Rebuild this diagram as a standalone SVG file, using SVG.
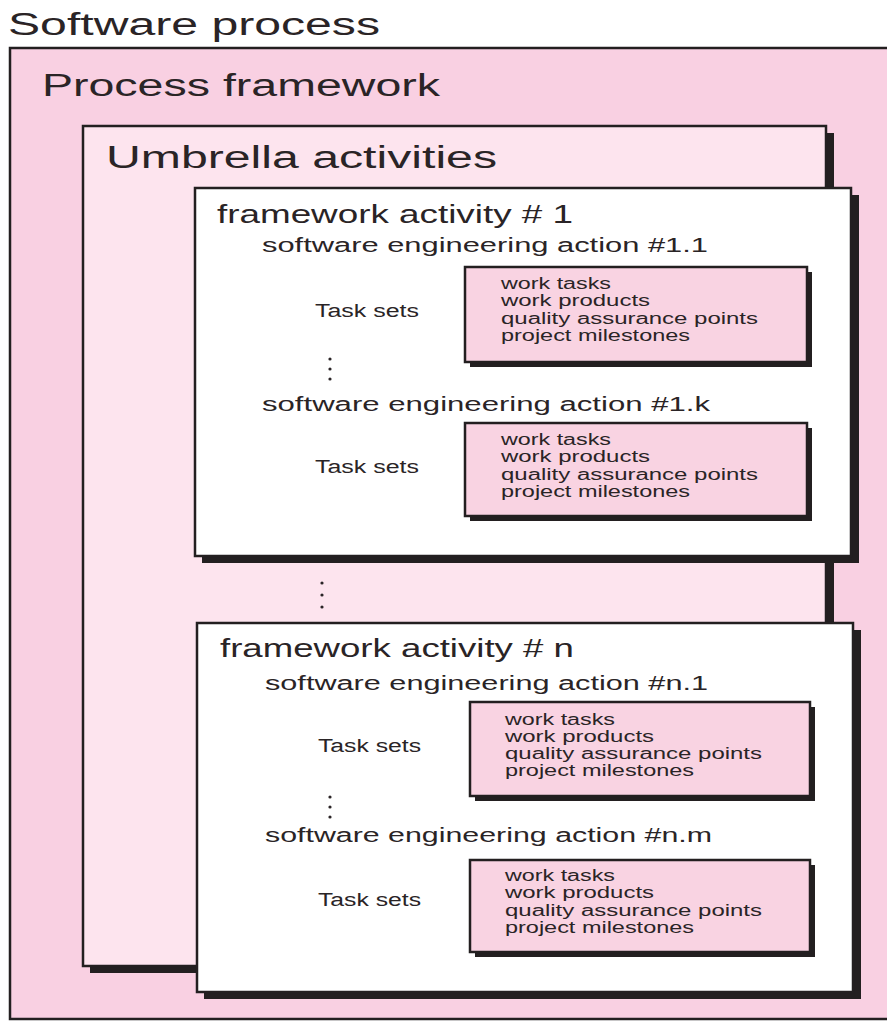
<svg xmlns="http://www.w3.org/2000/svg" width="887" height="1022" viewBox="0 0 887 1022">
<style>
.t{font-family:"Liberation Sans",Arial,sans-serif;fill:#2a2426}
.big{font-size:31px}
.fa{font-size:25px}
.sea{font-size:20px}
.ts{font-size:18px}
.sm{font-size:16px}
.frame{stroke:#231f20;stroke-width:2.5}
.sh{fill:#231f20}
.dot{fill:#2a2426}
</style>
<rect width="887" height="1022" fill="#ffffff"/>
<g id="software-process">
<text class="t big" x="8" y="35" textLength="372" lengthAdjust="spacingAndGlyphs">Software process</text>
<rect class="frame" x="10" y="48" width="900" height="971" fill="#f9d0e2"/>
</g>
<g id="process-framework">
<text class="t big" x="42" y="96" textLength="398" lengthAdjust="spacingAndGlyphs">Process framework</text>
</g>
<g id="umbrella-activities">
<rect class="sh" x="90" y="133" width="744" height="840"/>
<rect class="frame" x="83" y="126" width="743" height="840" fill="#fde4ee"/>
<text class="t big" x="106" y="168" textLength="391" lengthAdjust="spacingAndGlyphs">Umbrella activities</text>
</g>
<g id="framework-activity-1">
<rect class="sh" x="202" y="195" width="657" height="368"/>
<rect class="frame" x="195" y="188" width="656" height="368" fill="#ffffff"/>
<text class="t fa" x="217" y="223" textLength="356" lengthAdjust="spacingAndGlyphs">framework activity # 1</text>
<text class="t sea" x="262" y="252" textLength="446" lengthAdjust="spacingAndGlyphs">software engineering action #1.1</text>
<text class="t ts" x="315" y="317" textLength="104" lengthAdjust="spacingAndGlyphs">Task sets</text>
<g id="taskset-1-1">
<rect class="sh" x="470" y="272" width="342" height="95"/>
<rect class="frame" x="465" y="267" width="342" height="95" fill="#f9d3e2"/>
<text class="t sm" x="501" y="289" textLength="110" lengthAdjust="spacingAndGlyphs">work tasks</text>
<text class="t sm" x="501" y="306" textLength="149" lengthAdjust="spacingAndGlyphs">work products</text>
<text class="t sm" x="501" y="324" textLength="257" lengthAdjust="spacingAndGlyphs">quality assurance points</text>
<text class="t sm" x="501" y="341" textLength="189" lengthAdjust="spacingAndGlyphs">project milestones</text>
</g>
<circle class="dot" cx="330" cy="359" r="1.6"/>
<circle class="dot" cx="330" cy="369" r="1.6"/>
<circle class="dot" cx="330" cy="379" r="1.6"/>
<text class="t sea" x="262" y="411" textLength="448" lengthAdjust="spacingAndGlyphs">software engineering action #1.k</text>
<text class="t ts" x="315" y="473" textLength="104" lengthAdjust="spacingAndGlyphs">Task sets</text>
<g id="taskset-1-k">
<rect class="sh" x="470" y="428" width="342" height="93"/>
<rect class="frame" x="465" y="423" width="342" height="93" fill="#f9d3e2"/>
<text class="t sm" x="501" y="445" textLength="110" lengthAdjust="spacingAndGlyphs">work tasks</text>
<text class="t sm" x="501" y="462" textLength="149" lengthAdjust="spacingAndGlyphs">work products</text>
<text class="t sm" x="501" y="480" textLength="257" lengthAdjust="spacingAndGlyphs">quality assurance points</text>
<text class="t sm" x="501" y="497" textLength="189" lengthAdjust="spacingAndGlyphs">project milestones</text>
</g>
</g>
<g id="between-dots">
<circle class="dot" cx="322" cy="583" r="1.6"/>
<circle class="dot" cx="322" cy="595" r="1.6"/>
<circle class="dot" cx="322" cy="607" r="1.6"/>
</g>
<g id="framework-activity-n">
<rect class="sh" x="204" y="630" width="657" height="369"/>
<rect class="frame" x="197" y="623" width="656" height="369" fill="#ffffff"/>
<text class="t fa" x="220" y="657" textLength="354" lengthAdjust="spacingAndGlyphs">framework activity # n</text>
<text class="t sea" x="265" y="690" textLength="443" lengthAdjust="spacingAndGlyphs">software engineering action #n.1</text>
<text class="t ts" x="318" y="752" textLength="103" lengthAdjust="spacingAndGlyphs">Task sets</text>
<g id="taskset-n-1">
<rect class="sh" x="475" y="707" width="340" height="94"/>
<rect class="frame" x="470" y="702" width="340" height="94" fill="#f9d3e2"/>
<text class="t sm" x="505" y="725" textLength="110" lengthAdjust="spacingAndGlyphs">work tasks</text>
<text class="t sm" x="505" y="742" textLength="149" lengthAdjust="spacingAndGlyphs">work products</text>
<text class="t sm" x="505" y="759" textLength="257" lengthAdjust="spacingAndGlyphs">quality assurance points</text>
<text class="t sm" x="505" y="776" textLength="189" lengthAdjust="spacingAndGlyphs">project milestones</text>
</g>
<circle class="dot" cx="330" cy="797" r="1.6"/>
<circle class="dot" cx="330" cy="807" r="1.6"/>
<circle class="dot" cx="330" cy="817" r="1.6"/>
<text class="t sea" x="265" y="842" textLength="447" lengthAdjust="spacingAndGlyphs">software engineering action #n.m</text>
<text class="t ts" x="318" y="906" textLength="103" lengthAdjust="spacingAndGlyphs">Task sets</text>
<g id="taskset-n-m">
<rect class="sh" x="475" y="865" width="340" height="92"/>
<rect class="frame" x="470" y="860" width="340" height="92" fill="#f9d3e2"/>
<text class="t sm" x="505" y="881" textLength="110" lengthAdjust="spacingAndGlyphs">work tasks</text>
<text class="t sm" x="505" y="898" textLength="149" lengthAdjust="spacingAndGlyphs">work products</text>
<text class="t sm" x="505" y="916" textLength="257" lengthAdjust="spacingAndGlyphs">quality assurance points</text>
<text class="t sm" x="505" y="933" textLength="189" lengthAdjust="spacingAndGlyphs">project milestones</text>
</g>
</g>
<g id="connectors"></g>
</svg>
